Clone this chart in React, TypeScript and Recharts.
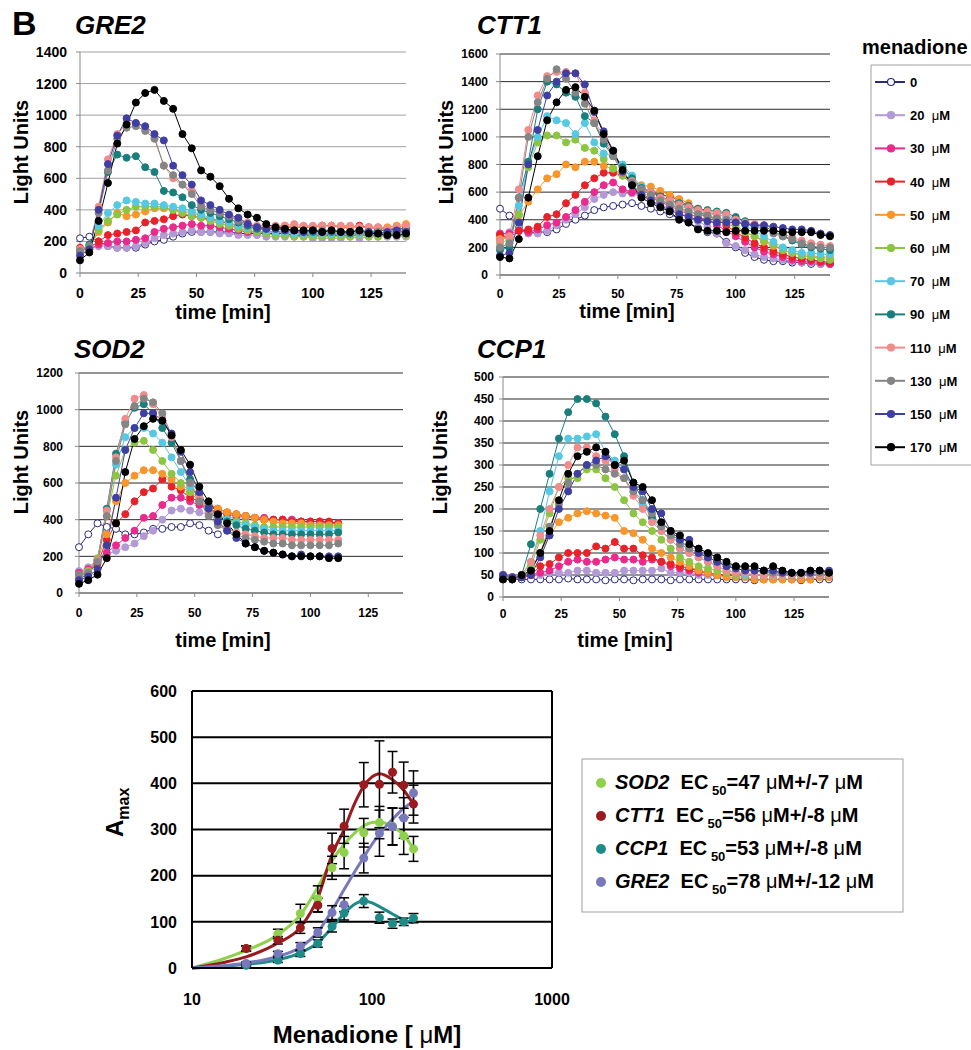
import React from 'react';
import {
  CartesianGrid,
  ComposedChart,
  ErrorBar,
  Line,
  LineChart,
  ReferenceLine,
  Scatter,
  XAxis,
  YAxis,
} from 'recharts';

const FONT = '"Liberation Sans", Arial, Helvetica, sans-serif';

// time courses: sampled every 4 min
const TIME = [
  0, 4, 8, 12, 16, 20, 24, 28, 32, 36, 40, 44, 48, 52, 56, 60, 64, 68, 72, 76, 80, 84, 88, 92, 96,
  100, 104, 108, 112, 116, 120, 124, 128, 132, 136, 140,
];
const X_TICKS = [0, 25, 50, 75, 100, 125];

const DOSES = [0, 20, 30, 40, 50, 60, 70, 90, 110, 130, 150, 170];
const DOSE_COLORS = [
  '#2b2a7c', '#b39ad6', '#ea2a8c', '#e8222b', '#f7962a', '#8cc541',
  '#55c8e3', '#1a7f7c', '#f28b8b', '#858585', '#3f3fa3', '#000000',
];

// rows follow DOSES order
const GRE2 = [
  [220, 230, 200, 170, 160, 160, 160, 180, 200, 210, 230, 250, 260, 260, 260, 260, 260, 250, 250, 250, 250, 250, 250, 240, 240, 240, 240, 240, 240, 240, 240, 240, 240, 240, 240, 240],
  [130, 150, 170, 170, 160, 160, 170, 190, 220, 240, 250, 260, 270, 260, 260, 250, 250, 240, 240, 240, 230, 230, 230, 230, 230, 220, 220, 220, 220, 230, 220, 230, 230, 230, 230, 230],
  [150, 150, 180, 190, 200, 200, 210, 220, 260, 280, 290, 300, 310, 300, 300, 290, 280, 270, 260, 260, 260, 260, 260, 260, 250, 250, 250, 250, 250, 250, 250, 250, 250, 250, 250, 260],
  [160, 160, 200, 240, 250, 260, 270, 320, 330, 340, 360, 370, 360, 350, 340, 330, 310, 300, 290, 290, 290, 290, 290, 290, 290, 290, 300, 300, 290, 290, 300, 290, 280, 280, 280, 280],
  [140, 160, 260, 320, 380, 360, 370, 390, 410, 410, 400, 390, 380, 360, 340, 320, 300, 290, 280, 280, 280, 290, 300, 290, 290, 290, 300, 300, 290, 290, 290, 290, 290, 290, 300, 310],
  [150, 170, 270, 330, 370, 400, 420, 420, 420, 420, 400, 380, 360, 350, 330, 310, 300, 280, 270, 260, 250, 240, 240, 230, 230, 230, 230, 230, 230, 230, 240, 230, 230, 240, 240, 240],
  [150, 170, 300, 380, 430, 460, 450, 440, 440, 430, 420, 410, 390, 370, 350, 330, 320, 300, 290, 280, 270, 260, 260, 250, 250, 250, 250, 250, 250, 250, 250, 250, 250, 250, 250, 260],
  [140, 180, 400, 640, 750, 730, 740, 670, 640, 520, 510, 480, 430, 400, 380, 360, 340, 320, 300, 280, 280, 280, 270, 270, 260, 260, 260, 260, 260, 250, 270, 260, 270, 270, 280, 280],
  [150, 170, 420, 720, 880, 950, 950, 920, 860, 680, 600, 560, 520, 440, 400, 380, 360, 340, 320, 300, 300, 300, 300, 310, 300, 300, 300, 300, 300, 300, 290, 290, 290, 280, 290, 300],
  [140, 170, 380, 650, 850, 920, 930, 900, 850, 680, 620, 560, 500, 420, 400, 380, 360, 330, 310, 290, 280, 280, 280, 270, 270, 270, 270, 270, 260, 260, 260, 260, 260, 250, 260, 260],
  [110, 150, 400, 690, 870, 980, 950, 930, 880, 840, 680, 620, 560, 460, 430, 400, 370, 350, 310, 290, 280, 280, 270, 270, 260, 270, 260, 270, 260, 260, 270, 260, 250, 260, 270, 260],
  [80, 130, 330, 570, 820, 940, 1080, 1140, 1160, 1090, 1040, 880, 790, 650, 610, 550, 470, 410, 370, 350, 310, 290, 280, 270, 270, 270, 260, 270, 260, 260, 270, 250, 250, 240, 240, 250],
];

const CTT1 = [
  [480, 430, 340, 310, 310, 310, 330, 370, 400, 430, 470, 490, 500, 510, 520, 500, 480, 460, 440, 410, 380, 340, 310, 300, 240, 200, 160, 130, 110, 100, 100, 90, 90, 80, 80, 80],
  [260, 310, 330, 300, 300, 320, 360, 400, 440, 490, 550, 580, 600, 590, 590, 570, 540, 510, 480, 450, 420, 390, 350, 300, 230, 210, 180, 150, 130, 120, 110, 100, 90, 90, 80, 80],
  [300, 300, 320, 310, 330, 360, 380, 420, 470, 530, 600, 650, 670, 620, 600, 580, 560, 530, 500, 470, 440, 420, 400, 360, 320, 280, 240, 200, 170, 150, 130, 110, 100, 100, 90, 80],
  [290, 270, 320, 330, 350, 420, 440, 520, 580, 650, 700, 740, 740, 720, 680, 630, 600, 580, 570, 540, 500, 460, 430, 400, 360, 310, 270, 230, 200, 170, 150, 130, 120, 110, 100, 90],
  [260, 280, 430, 530, 620, 700, 730, 800, 780, 820, 820, 790, 770, 720, 680, 650, 640, 610, 580, 550, 520, 480, 460, 420, 380, 340, 310, 280, 240, 210, 180, 160, 150, 140, 130, 130],
  [230, 260, 440, 780, 960, 1010, 1010, 960, 980, 920, 900, 840, 770, 720, 650, 600, 570, 540, 520, 490, 460, 440, 420, 400, 380, 360, 310, 280, 250, 220, 180, 160, 140, 130, 120, 110],
  [200, 230, 500, 800, 1000, 1150, 1120, 1100, 1020, 1100, 960, 880, 860, 800, 720, 640, 600, 560, 530, 500, 480, 460, 450, 440, 420, 400, 360, 320, 280, 240, 200, 180, 160, 160, 150, 150],
  [180, 200, 560, 820, 1200, 1400, 1380, 1320, 1290, 1150, 1100, 950, 860, 780, 700, 630, 600, 570, 540, 520, 500, 480, 470, 460, 450, 420, 390, 360, 350, 320, 280, 250, 220, 200, 190, 180],
  [250, 280, 620, 1050, 1300, 1440, 1470, 1470, 1460, 1320, 1120, 1000, 880, 740, 680, 620, 600, 560, 540, 510, 490, 470, 460, 450, 440, 400, 380, 370, 360, 340, 300, 270, 250, 230, 220, 210],
  [200, 230, 560, 1000, 1250, 1420, 1490, 1420, 1320, 1240, 1100, 980, 860, 740, 670, 620, 580, 540, 510, 480, 460, 440, 430, 410, 400, 380, 370, 350, 330, 300, 280, 260, 230, 210, 200, 200],
  [140, 160, 380, 800, 1050, 1300, 1400, 1460, 1460, 1380, 1180, 1040, 900, 750, 650, 580, 540, 500, 470, 440, 420, 400, 390, 380, 380, 380, 370, 360, 360, 350, 340, 330, 330, 320, 300, 290],
  [130, 120, 260, 560, 860, 1120, 1250, 1340, 1360, 1290, 1190, 1020, 900, 760, 650, 560, 520, 490, 460, 400, 380, 330, 320, 320, 310, 320, 320, 320, 320, 320, 310, 310, 310, 310, 290, 280],
];

// SOD2 was recorded only up to ~112 min
const SOD2 = [
  [250, 320, 380, 360, 350, 320, 320, 330, 350, 350, 360, 360, 380, 370, 340, 320],
  [120, 140, 180, 210, 230, 250, 270, 310, 340, 400, 450, 460, 450, 440, 430, 420, 410, 410, 410, 410, 400, 400, 400, 400, 390, 380, 380, 380, 380],
  [110, 130, 170, 220, 260, 300, 340, 410, 420, 480, 520, 520, 500, 480, 460, 440, 430, 420, 420, 410, 410, 400, 400, 400, 390, 390, 390, 380, 380],
  [90, 110, 160, 290, 380, 430, 500, 550, 570, 620, 580, 560, 520, 500, 480, 460, 440, 430, 420, 410, 400, 400, 400, 390, 390, 390, 390, 390, 380],
  [100, 120, 180, 320, 500, 600, 640, 670, 670, 650, 620, 580, 550, 520, 490, 460, 440, 430, 420, 410, 400, 390, 380, 380, 380, 370, 370, 370, 370],
  [100, 120, 190, 420, 640, 780, 820, 830, 780, 720, 650, 600, 550, 500, 450, 420, 400, 390, 380, 370, 360, 360, 360, 360, 360, 360, 360, 360, 360],
  [90, 110, 180, 450, 700, 850, 900, 900, 870, 820, 740, 660, 580, 520, 460, 420, 400, 380, 370, 360, 350, 340, 340, 340, 340, 340, 340, 340, 340],
  [80, 100, 180, 460, 760, 930, 1010, 1030, 980, 900, 820, 720, 620, 540, 470, 420, 390, 370, 350, 340, 330, 320, 320, 320, 320, 320, 320, 320, 330],
  [90, 110, 180, 450, 740, 950, 1060, 1080, 1030, 960, 850, 720, 600, 520, 440, 380, 350, 330, 320, 310, 300, 300, 300, 290, 290, 290, 290, 290, 290],
  [100, 110, 170, 420, 720, 920, 1020, 1060, 1040, 980, 860, 720, 600, 500, 420, 370, 340, 320, 300, 290, 280, 270, 270, 260, 260, 260, 260, 260, 270],
  [70, 90, 130, 260, 520, 780, 900, 980, 980, 940, 870, 770, 660, 550, 460, 390, 340, 300, 270, 250, 230, 220, 210, 200, 210, 200, 200, 200, 200],
  [50, 70, 100, 190, 380, 660, 840, 910, 950, 940, 860, 780, 700, 580, 500, 430, 380, 320, 270, 250, 230, 220, 210, 200, 200, 200, 200, 190, 190],
];

const CCP1 = [
  [40, 40, 40, 40, 40, 40, 40, 42, 40, 40, 40, 38, 40, 40, 38, 40, 40, 40, 38, 40, 40, 40, 40, 40, 40, 40, 40, 38, 40, 40, 40, 40, 38, 40, 40, 40],
  [45, 40, 45, 50, 50, 55, 55, 55, 60, 60, 55, 55, 55, 60, 60, 60, 60, 65, 55, 55, 55, 50, 50, 50, 50, 50, 50, 50, 50, 50, 50, 50, 50, 50, 50, 50],
  [50, 45, 45, 50, 55, 60, 70, 80, 85, 80, 80, 85, 90, 85, 85, 80, 85, 80, 70, 65, 60, 55, 55, 50, 50, 50, 50, 50, 50, 50, 50, 50, 50, 50, 50, 50],
  [50, 45, 45, 50, 70, 75, 90, 100, 100, 100, 115, 110, 125, 110, 110, 95, 90, 80, 75, 70, 65, 60, 55, 50, 50, 50, 50, 50, 50, 50, 50, 50, 50, 50, 50, 50],
  [40, 40, 45, 60, 100, 140, 170, 180, 190, 195, 190, 185, 180, 150, 145, 130, 110, 100, 90, 80, 70, 60, 55, 50, 45, 45, 45, 40, 40, 40, 40, 40, 40, 40, 45, 45],
  [45, 40, 50, 70, 130, 190, 250, 270, 270, 290, 290, 270, 250, 220, 190, 170, 150, 130, 110, 90, 80, 70, 65, 60, 55, 50, 50, 50, 50, 50, 50, 50, 50, 50, 50, 50],
  [50, 45, 50, 80, 150, 240, 320, 360, 360, 365, 370, 330, 310, 290, 240, 210, 180, 150, 130, 110, 100, 90, 80, 70, 60, 55, 50, 50, 50, 50, 50, 50, 50, 50, 50, 50],
  [45, 40, 50, 120, 200, 280, 360, 420, 450, 450, 440, 410, 370, 320, 260, 220, 180, 160, 140, 130, 110, 100, 90, 80, 70, 65, 60, 60, 55, 55, 55, 50, 50, 50, 50, 50],
  [50, 45, 50, 80, 140, 200, 250, 300, 340, 340, 320, 310, 290, 270, 230, 200, 170, 150, 130, 110, 100, 90, 80, 70, 60, 55, 55, 50, 50, 50, 50, 50, 50, 50, 50, 50],
  [45, 40, 45, 60, 100, 160, 210, 260, 280, 300, 300, 290, 280, 270, 240, 220, 190, 160, 140, 120, 110, 100, 90, 80, 75, 70, 65, 60, 60, 55, 55, 55, 55, 55, 55, 55],
  [50, 45, 45, 50, 90, 140, 200, 240, 280, 300, 310, 320, 300, 290, 250, 240, 200, 190, 150, 130, 130, 100, 90, 80, 70, 65, 60, 60, 60, 60, 55, 55, 55, 55, 60, 60],
  [40, 40, 50, 60, 100, 150, 220, 280, 320, 330, 340, 330, 300, 310, 260, 250, 220, 170, 150, 140, 120, 110, 100, 90, 80, 70, 70, 70, 60, 70, 60, 55, 55, 60, 60, 55],
];

// dose response (Amax vs menadione)
const CONC = [20, 30, 40, 50, 60, 70, 90, 110, 130, 150, 170];
const SOD2_AMAX = [42, 74, 118, 150, 217, 250, 293, 315, 307, 286, 258];
const SOD2_ERR = [6, 10, 20, 28, 25, 35, 31, 35, 40, 40, 27];
const CTT1_AMAX = [42, 60, 87, 136, 259, 307, 397, 398, 424, 396, 355];
const CTT1_ERR = [5, 8, 12, 15, 33, 37, 48, 94, 45, 50, 41];
const CCP1_AMAX = [6, 17, 31, 53, 90, 119, 145, 109, 96, 100, 108];
const CCP1_ERR = [2, 5, 6, 8, 12, 15, 14, 12, 10, 8, 10];
const GRE2_AMAX = [10, 31, 47, 77, 120, 137, 238, 292, 306, 325, 379];
const GRE2_ERR = [3, 5, 8, 10, 15, 15, 32, 50, 40, 44, 48];

const FIT_X = [10, 15, 20, 30, 40, 50, 60, 70, 80, 90, 100, 110, 130, 150, 170];
const SOD2_FIT = [0, 20, 38, 72, 115, 175, 232, 268, 292, 308, 315, 316, 306, 288, 258];
const CTT1_FIT = [0, 12, 24, 54, 88, 152, 246, 300, 356, 394, 414, 421, 408, 385, 355];
const CCP1_FIT = [0, 4, 8, 18, 33, 55, 88, 118, 138, 145, 141, 133, 117, 104, 98];
const GRE2_FIT = [0, 5, 11, 25, 45, 78, 125, 170, 208, 240, 268, 290, 322, 346, 360];

const GENES = ['SOD2', 'CTT1', 'CCP1', 'GRE2'];
const GENE_COLORS = ['#8fd04c', '#9a1b1f', '#1d8b87', '#7878bd'];
const GENE_EC50 = ['47', '56', '53', '78'];
const GENE_EC50_ERR = ['7', '8', '8', '12'];

type PanelProps = {
  rows: number[][];
  left: number;
  top: number;
  marginTop: number;
  marginRight: number;
  yAxisWidth: number;
  xAxisHeight: number;
  yTicks: number[];
  fontSize: number;
  yTickMargin: number;
  xTickMargin: number;
  gridColor: string;
};

function TimeCourse(p: PanelProps) {
  const data = TIME.map((t, i) => {
    const row: Record<string, number | null> = { t };
    DOSES.forEach((d, j) => {
      row['c' + d] = p.rows[j][i] ?? null;
    });
    return row;
  });
  const tickStyle = { fontSize: p.fontSize, fontWeight: 'bold', fill: '#000', fontFamily: FONT };
  return (
    <div style={{ position: 'absolute', left: p.left, top: p.top }}>
      <LineChart
        width={420}
        height={300}
        data={data}
        margin={{ top: p.marginTop, right: p.marginRight, bottom: 0, left: 0 }}
      >
        <CartesianGrid vertical={false} stroke={p.gridColor} strokeWidth={1} />
        <XAxis
          dataKey="t"
          type="number"
          domain={[0, 140]}
          ticks={X_TICKS}
          interval={0}
          height={p.xAxisHeight}
          tick={tickStyle}
          tickSize={4}
          tickMargin={p.xTickMargin}
          axisLine={{ stroke: '#8a8a8a' }}
          tickLine={{ stroke: '#8a8a8a' }}
        />
        <YAxis
          type="number"
          domain={[p.yTicks[0], p.yTicks[p.yTicks.length - 1]]}
          ticks={p.yTicks}
          interval={0}
          width={p.yAxisWidth}
          tick={tickStyle}
          tickSize={4}
          tickMargin={p.yTickMargin}
          axisLine={{ stroke: '#8a8a8a' }}
          tickLine={{ stroke: '#8a8a8a' }}
        />
        {DOSES.map((d, j) => (
          <Line
            key={d}
            dataKey={'c' + d}
            stroke={DOSE_COLORS[j]}
            strokeWidth={1}
            dot={{ r: 3.5, fill: d === 0 ? '#fff' : DOSE_COLORS[j], stroke: DOSE_COLORS[j], strokeWidth: 1 }}
            isAnimationActive={false}
          />
        ))}
      </LineChart>
    </div>
  );
}

function DoseResponse() {
  const fits = [SOD2_FIT, CTT1_FIT, CCP1_FIT, GRE2_FIT];
  const amax = [SOD2_AMAX, CTT1_AMAX, CCP1_AMAX, GRE2_AMAX];
  const errs = [SOD2_ERR, CTT1_ERR, CCP1_ERR, GRE2_ERR];
  const tickStyle = { fontSize: 16, fontWeight: 'bold', fill: '#000', fontFamily: FONT };
  return (
    <div style={{ position: 'absolute', left: 0, top: 640 }}>
      <ComposedChart width={600} height={410} margin={{ top: 51, right: 48, bottom: 0, left: 0 }}>
        <CartesianGrid vertical={false} stroke="#000" strokeWidth={2} />
        <XAxis
          dataKey="x"
          type="number"
          scale="log"
          domain={[10, 1000]}
          ticks={[10, 100, 1000]}
          interval={0}
          allowDataOverflow
          height={82}
          tick={tickStyle}
          tickSize={0}
          tickMargin={26}
          axisLine={{ stroke: '#000', strokeWidth: 2 }}
          tickLine={false}
        />
        <YAxis
          dataKey="y"
          type="number"
          domain={[0, 600]}
          ticks={[0, 100, 200, 300, 400, 500, 600]}
          interval={0}
          width={192}
          tick={tickStyle}
          tickSize={0}
          tickMargin={15}
          axisLine={{ stroke: '#000', strokeWidth: 2 }}
          tickLine={false}
        />
        <ReferenceLine x={1000} stroke="#000" strokeWidth={2} />
        {GENES.map((g, k) => (
          <Line
            key={'fit' + g}
            data={FIT_X.map((x, i) => ({ x, y: fits[k][i] }))}
            dataKey="y"
            type="monotone"
            stroke={GENE_COLORS[k]}
            strokeWidth={3}
            dot={false}
            isAnimationActive={false}
          />
        ))}
        {GENES.map((g, k) => (
          <Scatter
            key={'pts' + g}
            data={CONC.map((x, i) => ({ x, y: amax[k][i], err: errs[k][i] }))}
            dataKey="y"
            fill={GENE_COLORS[k]}
            isAnimationActive={false}
            shape={(s: any) => <circle cx={s.cx} cy={s.cy} r={4.5} fill={GENE_COLORS[k]} />}
          >
            <ErrorBar dataKey="err" direction="y" width={5} stroke="#000" strokeWidth={1.5} />
          </Scatter>
        ))}
      </ComposedChart>
    </div>
  );
}

function Annotations() {
  const bold = { fontFamily: FONT, fontWeight: 'bold' as const, fill: '#000', whiteSpace: 'pre' as const };
  const titleStyle = { ...bold, fontSize: 26, fontStyle: 'italic' as const };
  const axisTitle = { ...bold, fontSize: 20 };
  const yLabels: [number, number][] = [[28, 152], [453, 152], [28, 462], [447, 462]];
  const xLabels: [number, number][] = [[223, 319], [627, 318], [223, 647], [625, 647]];
  return (
    <svg width={971} height={1050} style={{ position: 'absolute', left: 0, top: 0, pointerEvents: 'none' }}>
      <text x={12} y={35} style={{ ...bold, fontSize: 34 }}>B</text>
      <text x={75} y={34} style={titleStyle}>GRE2</text>
      <text x={477} y={34} style={titleStyle}>CTT1</text>
      <text x={74} y={358} style={titleStyle}>SOD2</text>
      <text x={477} y={358} style={titleStyle}>CCP1</text>
      {yLabels.map(([x, y], i) => (
        <text key={'yl' + i} x={x} y={y} textAnchor="middle" transform={`rotate(-90 ${x} ${y})`} style={axisTitle}>
          Light Units
        </text>
      ))}
      {xLabels.map(([x, y], i) => (
        <text key={'xl' + i} x={x} y={y} textAnchor="middle" style={axisTitle}>
          time [min]
        </text>
      ))}

      {/* menadione legend */}
      <text x={862} y={54} style={{ ...bold, fontSize: 20 }}>menadione</text>
      <path d="M971 65 H871 V465 H971" fill="none" stroke="#a0a0a0" strokeWidth={1} />
      {DOSES.map((d, j) => {
        const y = 82 + j * 33.2;
        return (
          <g key={'lg' + d}>
            <line x1={875} x2={905} y1={y} y2={y} stroke={DOSE_COLORS[j]} strokeWidth={2} />
            <circle cx={891} cy={y} r={3.5} fill={d === 0 ? '#fff' : DOSE_COLORS[j]} stroke={DOSE_COLORS[j]} strokeWidth={1.2} />
            <text x={910} y={y + 5} style={{ ...bold, fontSize: 13 }}>
              {d === 0 ? '0' : `${d}  `}
              {d === 0 ? null : <tspan style={{ fontWeight: 'normal' }}>μ</tspan>}
              {d === 0 ? null : 'M'}
            </text>
          </g>
        );
      })}

      {/* dose response labels */}
      <text x={123} y={837} transform="rotate(-90 123 837)" style={{ ...bold, fontSize: 24 }}>
        A<tspan dy={6} style={{ fontSize: 16 }}>max</tspan>
      </text>
      <text x={367} y={1043} textAnchor="middle" style={{ ...bold, fontSize: 24 }}>
        {'Menadione [ '}<tspan style={{ fontWeight: 'normal' }}>μ</tspan>M]
      </text>

      <rect x={582} y={759} width={321} height={153} fill="#fff" stroke="#a0a0a0" strokeWidth={1} />
      {GENES.map((g, k) => {
        const y = 789 + k * 33;
        return (
          <g key={'gl' + g}>
            <circle cx={601} cy={y - 6} r={5} fill={GENE_COLORS[k]} />
            <text x={615} y={y} style={{ ...bold, fontSize: 20 }}>
              <tspan style={{ fontStyle: 'italic' }}>{g}</tspan>
              <tspan>{'  EC'}</tspan>
              <tspan dy={6} style={{ fontSize: 13 }}>{' 50'}</tspan>
              <tspan dy={-6}>{`=${GENE_EC50[k]} `}</tspan>
              <tspan style={{ fontWeight: 'normal' }}>μ</tspan>
              <tspan>{`M+/-${GENE_EC50_ERR[k]} `}</tspan>
              <tspan style={{ fontWeight: 'normal' }}>μ</tspan>
              <tspan>M</tspan>
            </text>
          </g>
        );
      })}
    </svg>
  );
}

export default function App() {
  return (
    <div style={{ position: 'absolute', left: 0, top: 0, width: 971, height: 1050, overflow: 'hidden', background: '#fff', fontFamily: FONT }}>
      <TimeCourse rows={GRE2} left={0} top={0} marginTop={52} marginRight={14} yAxisWidth={80} xAxisHeight={27}
        yTicks={[0, 200, 400, 600, 800, 1000, 1200, 1400]} fontSize={14} yTickMargin={9} xTickMargin={11} gridColor="#a0a0a0" />
      <TimeCourse rows={CTT1} left={420} top={0} marginTop={54} marginRight={10} yAxisWidth={80} xAxisHeight={25}
        yTicks={[0, 200, 400, 600, 800, 1000, 1200, 1400, 1600]} fontSize={12} yTickMargin={8} xTickMargin={10} gridColor="#2a2a2a" />
      <TimeCourse rows={SOD2} left={0} top={320} marginTop={53} marginRight={17} yAxisWidth={79} xAxisHeight={27}
        yTicks={[0, 200, 400, 600, 800, 1000, 1200]} fontSize={12} yTickMargin={12} xTickMargin={11} gridColor="#2a2a2a" />
      <TimeCourse rows={CCP1} left={420} top={320} marginTop={57} marginRight={11} yAxisWidth={83} xAxisHeight={23}
        yTicks={[0, 50, 100, 150, 200, 250, 300, 350, 400, 450, 500]} fontSize={12} yTickMargin={5} xTickMargin={8} gridColor="#2a2a2a" />
      <DoseResponse />
      <Annotations />
    </div>
  );
}
